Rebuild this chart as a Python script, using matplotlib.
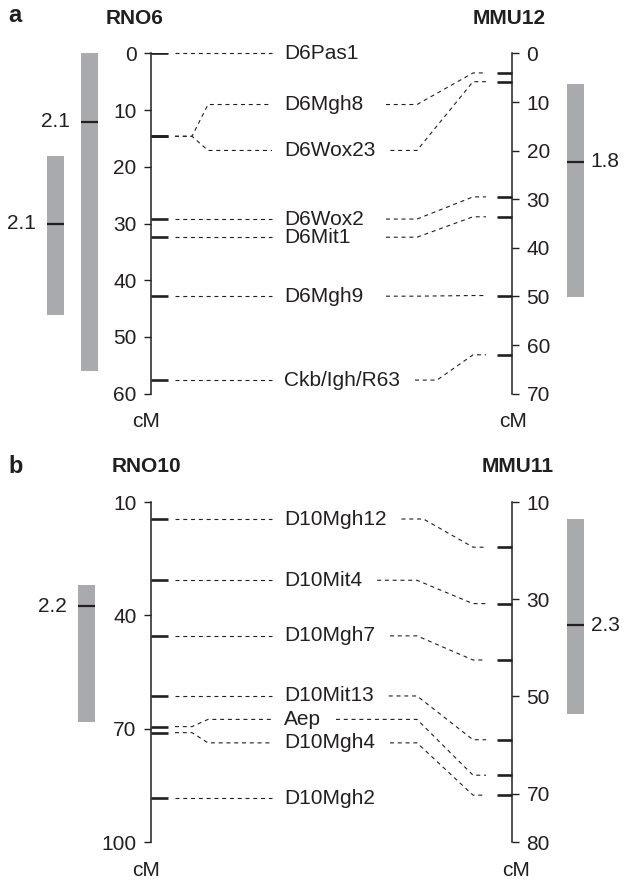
import matplotlib
matplotlib.use('Agg')
import matplotlib.pyplot as plt
from matplotlib.lines import Line2D

plt.rcParams['font.family'] = ['Liberation Sans', 'DejaVu Sans']

# ---------------- data ----------------
# Panel a: RNO6 vs MMU12
rno6_markers = ['D6Pas1', 'D6Mgh8', 'D6Wox23', 'D6Wox2', 'D6Mit1', 'D6Mgh9', 'Ckb/Igh/R63']
rno6_cM = [0.0, 14.6, 14.6, 29.2, 32.4, 42.8, 57.6]
mmu12_cM = [None, 4.0, 5.8, 29.5, 33.6, 49.8, 62.0]
rno6_ticks = [0, 10, 20, 30, 40, 50, 60]
mmu12_ticks = [0, 10, 20, 30, 40, 50, 60, 70]
rno6_qtl_start = [18.1, 0.0]
rno6_qtl_end = [46.1, 56.0]
rno6_qtl_peak = [30.0, 12.0]
rno6_qtl_lod = ['2.1', '2.1']
mmu12_qtl_start = [6.2]
mmu12_qtl_end = [50.0]
mmu12_qtl_peak = [22.3]
mmu12_qtl_lod = ['1.8']

# Panel b: RNO10 vs MMU11
rno10_markers = ['D10Mgh12', 'D10Mit4', 'D10Mgh7', 'D10Mit13', 'Aep', 'D10Mgh4', 'D10Mgh2']
rno10_cM = [14.5, 30.7, 45.4, 61.3, 69.4, 71.0, 88.4]
mmu11_cM = [19.3, 30.9, 42.5, 58.9, 66.2, 70.3, None]
rno10_ticks = [10, 40, 70, 100]
mmu11_ticks = [10, 30, 50, 70, 80]
rno10_qtl_start = [32.0]
rno10_qtl_end = [68.1]
rno10_qtl_peak = [37.6]
rno10_qtl_lod = ['2.2']
mmu11_qtl_start = [13.4]
mmu11_qtl_end = [53.6]
mmu11_qtl_peak = [35.4]
mmu11_qtl_lod = ['2.3']

# label placement (layout, in left-map cM) for labels spread apart
rno6_label_y = [0.0, 9.0, 17.1, 29.2, 32.4, 42.8, 57.6]
rno10_label_y = [14.5, 30.7, 45.4, 61.3, 67.5, 73.7, 88.4]

# ---------------- style ----------------
K = '#231f20'
GRAY = '#a9aaae'
FS = 15
W, H = 625, 881
XL, XR = 151, 512          # axis positions (px)
BAR_W = 17

fig = plt.figure(figsize=(W / 100, H / 100), dpi=100)
fig.patch.set_facecolor('white')
dash = (0, (3.6, 3.4))


def make_panel(top_px, bot_px, llim, rlim, lticks, rticks):
    ax = fig.add_axes([0, 1 - bot_px / H, 1, (bot_px - top_px) / H])
    ax.set_xlim(0, W)
    ax.set_ylim(llim[1], llim[0])
    tw = ax.twinx()
    tw.set_ylim(rlim[1], rlim[0])
    ax.patch.set_visible(False)
    tw.patch.set_visible(False)
    for s in ['top', 'bottom', 'right']:
        ax.spines[s].set_visible(False)
    for s in ['top', 'bottom', 'left']:
        tw.spines[s].set_visible(False)
    ax.spines['left'].set_position(('data', XL))
    tw.spines['right'].set_position(('data', XR))
    ax.spines['left'].set_linewidth(1.1)
    tw.spines['right'].set_linewidth(1.1)
    ax.spines['left'].set_color(K)
    tw.spines['right'].set_color(K)
    ax.set_xticks([])
    ax.set_yticks(lticks)
    tw.set_yticks(rticks)
    for a in (ax, tw):
        a.tick_params(axis='y', direction='out', length=5, width=1.0, pad=5.5,
                      labelsize=FS, colors=K)
    return ax, tw


def to_fig(axis, x, y):
    d = axis.transData.transform((x, y))
    return fig.transFigure.inverted().transform(d)


def draw_panel(ax, tw, names, lcm, rcm, laby, lqs, lqe, lqp, lql, lbar_x,
               rqs, rqe, rqp, rql, rbar_x, min_start):
    # marker ticks
    ax.hlines(lcm, XL, XL + 17, lw=1.9, color=K)
    tw.hlines([v for v in rcm if v is not None], XR - 15.5, XR, lw=1.9, color=K)
    # QTL bars
    for s, e, p, lab, cx in zip(lqs, lqe, lqp, lql, lbar_x):
        ax.bar(cx, e - s, bottom=s, width=BAR_W, color=GRAY, linewidth=0)
        ax.hlines(p, cx - BAR_W / 2, cx + BAR_W / 2, lw=1.6, color=K)
        ax.text(cx - BAR_W / 2 - 11, p, lab, ha='right', va='center', fontsize=FS, color=K)
    for s, e, p, lab, cx in zip(rqs, rqe, rqp, rql, rbar_x):
        tw.bar(cx, e - s, bottom=s, width=BAR_W, color=GRAY, linewidth=0)
        tw.hlines(p, cx - BAR_W / 2, cx + BAR_W / 2, lw=1.6, color=K)
        tw.text(cx + BAR_W / 2 + 7, p, lab, ha='left', va='center', fontsize=FS, color=K)
    # labels
    texts = []
    for n, y in zip(names, laby):
        texts.append(ax.text(284, y, n, ha='left', va='center', fontsize=FS, color=K))
    renderer = fig.canvas.get_renderer()
    for i, (n, m, r, y) in enumerate(zip(names, lcm, rcm, laby)):
        # left connector
        if abs(y - m) < 1e-9:
            pts = [to_fig(ax, 175, m), to_fig(ax, 272, m)]
        else:
            pts = [to_fig(ax, 175, m), to_fig(ax, 192, m),
                   to_fig(ax, 208, y), to_fig(ax, 272, y)]
        fig.add_artist(Line2D([p[0] for p in pts], [p[1] for p in pts],
                              transform=fig.transFigure, lw=0.8, color=K,
                              linestyle=dash))
        if r is None:
            continue
        end = texts[i].get_window_extent(renderer).x1
        start = max(end + 15, min_start)
        kink = max(417, start + 22)
        pts = [to_fig(ax, start, y), to_fig(ax, kink, y),
               to_fig(tw, 473, r), to_fig(tw, 486, r)]
        fig.add_artist(Line2D([p[0] for p in pts], [p[1] for p in pts],
                              transform=fig.transFigure, lw=0.8, color=K,
                              linestyle=dash))


# Panel a
axa, twa = make_panel(53.5, 393.7, (0, 60), (0, 70), rno6_ticks, mmu12_ticks)
draw_panel(axa, twa, rno6_markers, rno6_cM, mmu12_cM, rno6_label_y,
           rno6_qtl_start, rno6_qtl_end, rno6_qtl_peak, rno6_qtl_lod, [55.5, 89.5],
           mmu12_qtl_start, mmu12_qtl_end, mmu12_qtl_peak, mmu12_qtl_lod, [575.3],
           386)

# Panel b
axb, twb = make_panel(502.0, 842.3, (10, 100), (10, 80), rno10_ticks, mmu11_ticks)
draw_panel(axb, twb, rno10_markers, rno10_cM, mmu11_cM, rno10_label_y,
           rno10_qtl_start, rno10_qtl_end, rno10_qtl_peak, rno10_qtl_lod, [86.7],
           mmu11_qtl_start, mmu11_qtl_end, mmu11_qtl_peak, mmu11_qtl_lod, [575.3],
           0)


def ftext(x, y, s, **kw):
    fig.text(x / W, 1 - y / H, s, color=K, **kw)


ftext(8, 16, 'a', ha='left', va='center', fontsize=17, fontweight='bold')
ftext(8, 467, 'b', ha='left', va='center', fontsize=17, fontweight='bold')
ftext(134.5, 18.7, 'RNO6', ha='center', va='center', fontsize=15, fontweight='bold')
ftext(509, 18.7, 'MMU12', ha='center', va='center', fontsize=15, fontweight='bold')
ftext(146.7, 466.7, 'RNO10', ha='center', va='center', fontsize=15, fontweight='bold')
ftext(518, 466.7, 'MMU11', ha='center', va='center', fontsize=15, fontweight='bold')
ftext(146, 421.7, 'cM', ha='center', va='center', fontsize=FS)
ftext(513, 421.7, 'cM', ha='center', va='center', fontsize=FS)
ftext(146, 870, 'cM', ha='center', va='center', fontsize=FS)
ftext(516, 870, 'cM', ha='center', va='center', fontsize=FS)

fig.savefig('out.png', dpi=100)
